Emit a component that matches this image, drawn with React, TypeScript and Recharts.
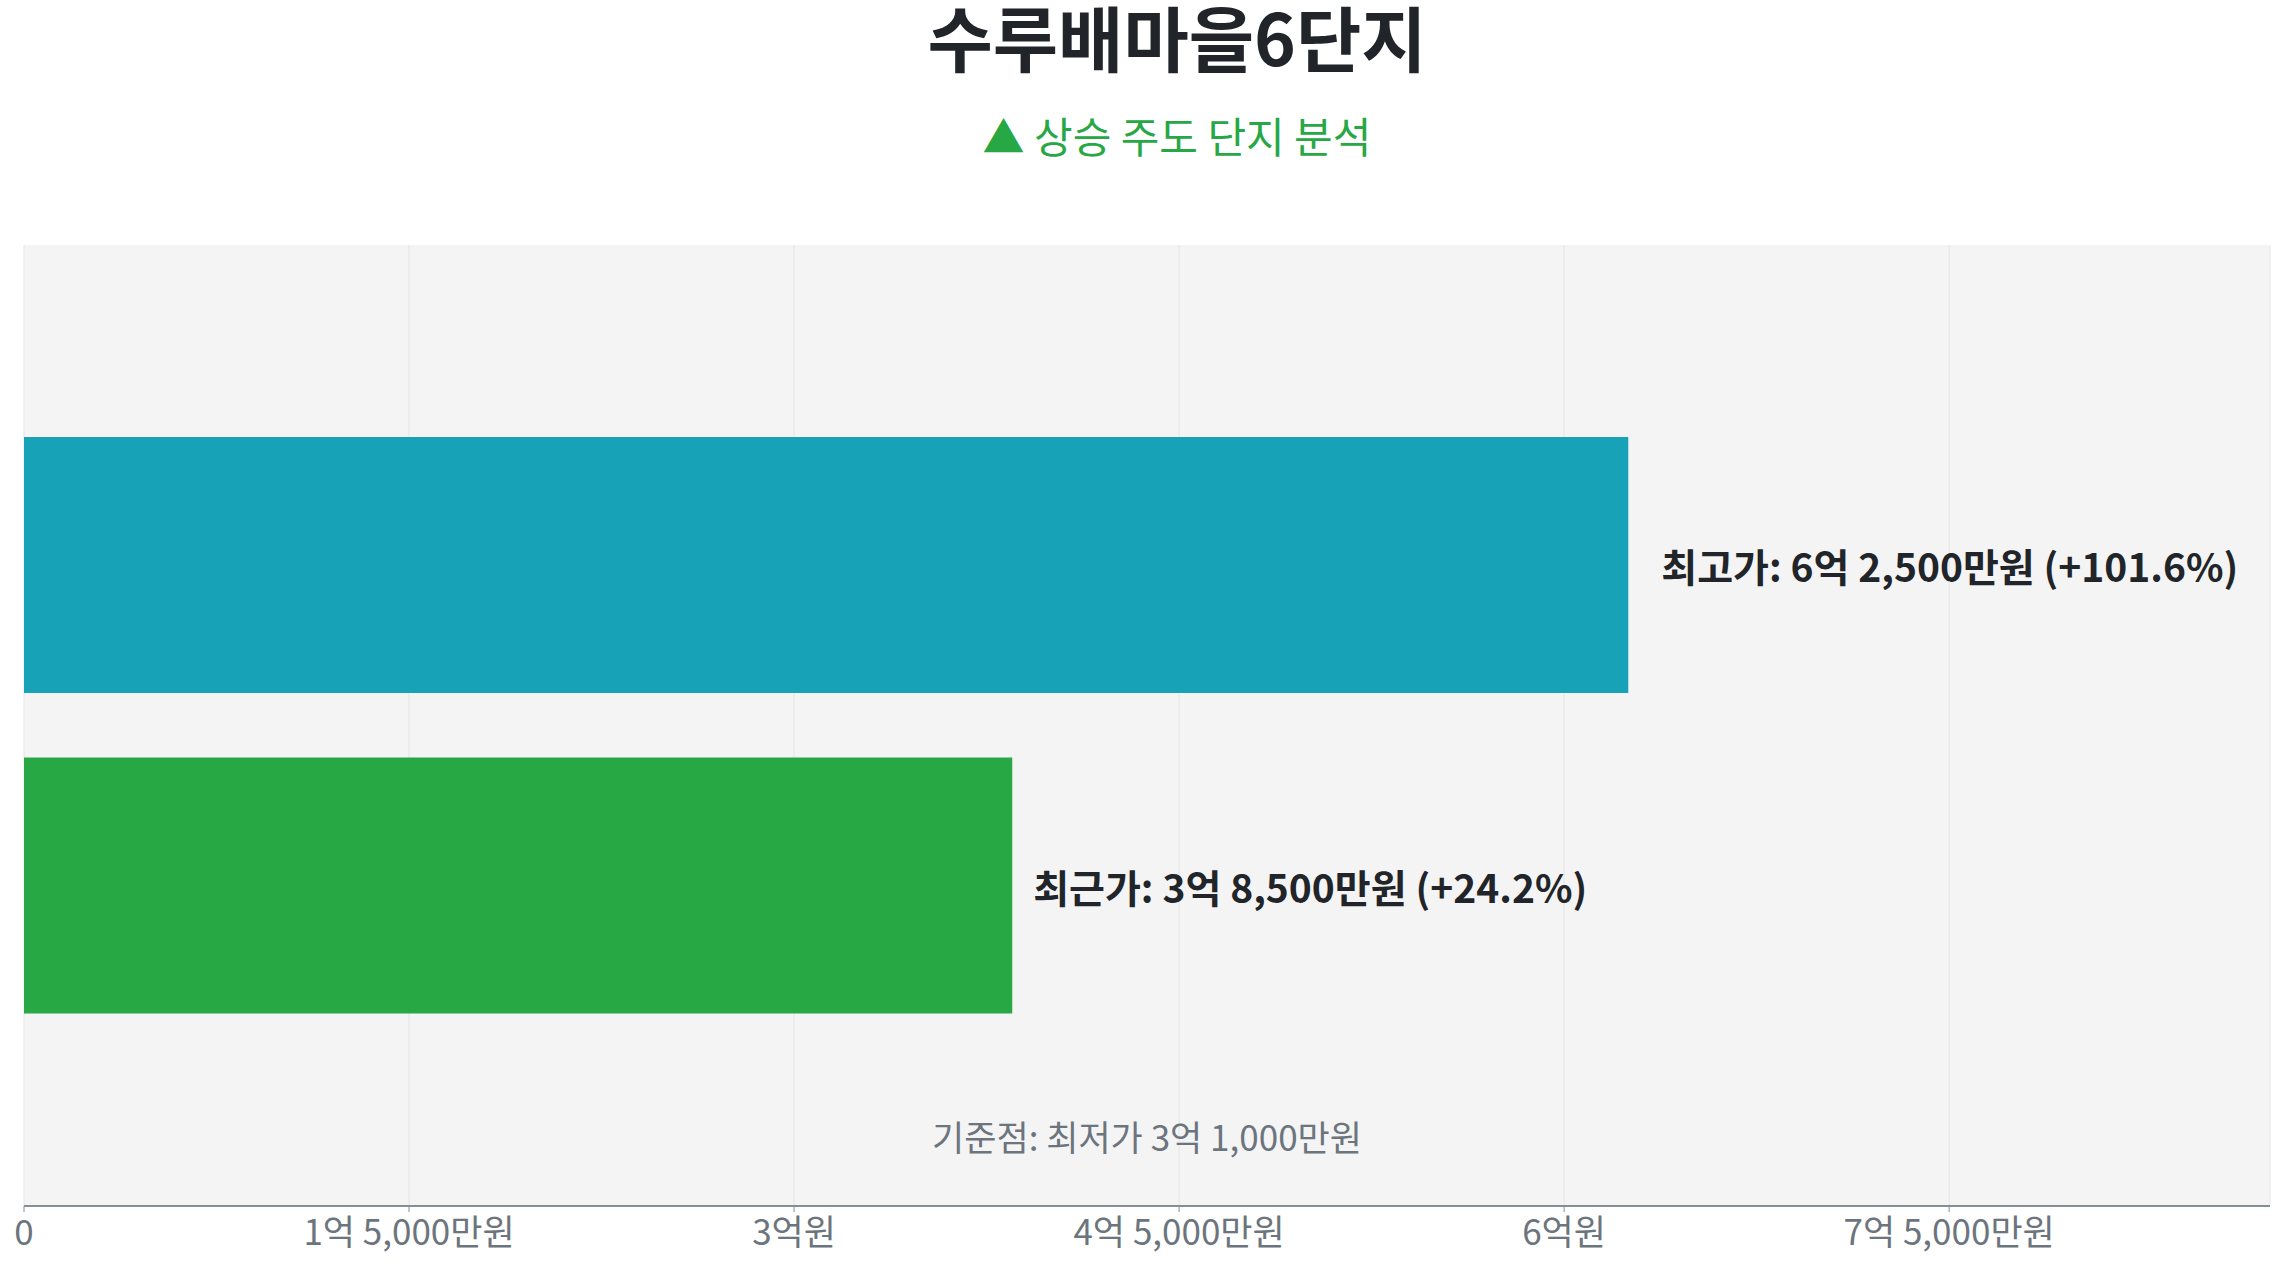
import React from "react";
import { BarChart, Bar, XAxis, YAxis, CartesianGrid, Cell, LabelList } from "recharts";

// values (원)
const categories = ["최고가", "최근가"];
const prices = [625000000, 385000000];
const changes = [101.6, 24.2];
const basePrice = 310000000;
const tickValues = [0, 150000000, 300000000, 450000000, 600000000, 750000000];
const axisMax = 875000000;

const barColors = ["#17a2b8", "#28a745"];
const labelOffsets = [33, 21];
const FONT = '"Noto Sans CJK KR", "Noto Sans", sans-serif';

const formatWon = (v: number) => {
  if (v === 0) return "0";
  const eok = Math.floor(v / 1e8);
  const man = Math.round((v % 1e8) / 1e4);
  if (man === 0) return `${eok}억원`;
  return `${eok}억 ${man.toLocaleString("en-US")}만원`;
};

const data = categories.map((name, i) => ({ name, price: prices[i], change: changes[i] }));

const BarLabel = (props: any) => {
  const { x, y, width, height, index } = props;
  const d = data[index];
  return (
    <text
      x={x + width + labelOffsets[index]}
      y={y + height / 2}
      dominantBaseline="central"
      fontSize={39}
      fontWeight={700}
      fill="#212529"
      fontFamily={FONT}
    >
      {`${d.name}: ${formatWon(d.price)} (+${d.change.toFixed(1)}%)`}
    </text>
  );
};

const App = () => {
  return (
    <div style={{ position: "absolute", left: 0, top: 0, width: 2286, height: 1268, background: "#fff", fontFamily: FONT }}>
      <div
        style={{
          position: "absolute",
          left: 1177,
          top: 7,
          transform: "translateX(-50%)",
          whiteSpace: "nowrap",
          fontSize: 71,
          lineHeight: 0.8,
          fontWeight: 700,
          color: "#212529",
        }}
      >
        수루배마을6단지
      </div>
      <div
        style={{
          position: "absolute",
          left: 1177,
          top: 114,
          transform: "translateX(-50%)",
          whiteSpace: "nowrap",
          fontSize: 42,
          lineHeight: 1,
          color: "#28a745",
        }}
      >
        ▲ 상승 주도 단지 분석
      </div>
      <BarChart
        width={2286}
        height={1268}
        data={data}
        layout="vertical"
        margin={{ top: 245, right: 16, bottom: 12, left: 24 }}
      >
        <CartesianGrid horizontal={false} stroke="#e5e5e5" fill="#f4f4f4" />
        <XAxis
          type="number"
          domain={[0, axisMax]}
          ticks={tickValues}
          interval={0}
          tickFormatter={formatWon}
          height={50}
          tickSize={6}
          tickMargin={8}
          tick={{ fontSize: 35, fill: "#6c757d", fontFamily: FONT }}
          tickLine={{ stroke: "#868e96" }}
          axisLine={{ stroke: "#868e96", strokeWidth: 2 }}
        />
        <YAxis
          type="category"
          dataKey="name"
          width={0}
          tick={false}
          tickLine={false}
          axisLine={{ stroke: "#868e96", strokeWidth: 2 }}
          padding={{ top: 160, bottom: 160 }}
        />
        <Bar dataKey="price" barSize={256} isAnimationActive={false}>
          {data.map((d, i) => (
            <Cell key={d.name} fill={barColors[i]} />
          ))}
          <LabelList dataKey="price" content={BarLabel} />
        </Bar>
      </BarChart>
      <div
        style={{
          position: "absolute",
          left: 1147,
          top: 1118,
          transform: "translateX(-50%)",
          whiteSpace: "nowrap",
          fontSize: 35,
          lineHeight: 1,
          color: "#6c757d",
        }}
      >
        {`기준점: 최저가 ${formatWon(basePrice)}`}
      </div>
    </div>
  );
};

export default App;
